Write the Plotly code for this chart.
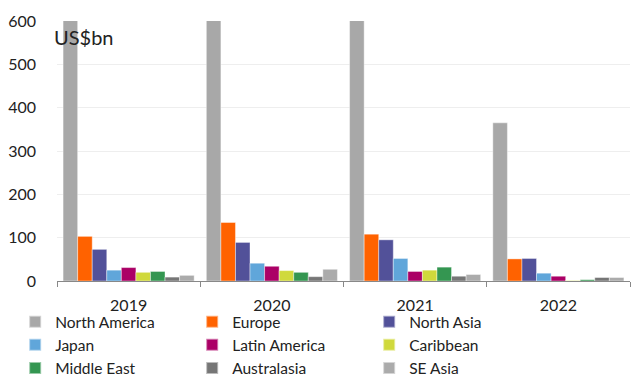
import plotly.graph_objects as go

years = ["2019", "2020", "2021", "2022"]
regions = ["North America", "Europe", "North Asia", "Japan", "Latin America",
           "Caribbean", "Middle East", "Australasia", "SE Asia"]
colors = ["#A8A8A8", "#FF6200", "#525199", "#60A6DA", "#AB0066",
          "#D0D93C", "#349651", "#767676", "#ABABAB"]

north_america = [900, 900, 900, 365]
europe = [103, 135, 108, 51]
north_asia = [73, 89, 95, 52]
japan = [25, 41, 52, 18]
latin_america = [31, 34, 22, 11]
caribbean = [20, 24, 25, 1]
middle_east = [22, 20, 32, 3]
australasia = [9, 10, 11, 8]
se_asia = [13, 27, 15, 8]

series = [north_america, europe, north_asia, japan, latin_america,
          caribbean, middle_east, australasia, se_asia]

font = "Lato"
fig = go.Figure()
for name, vals, col in zip(regions, series, colors):
    fig.add_trace(go.Bar(x=years, y=vals, name=name,
                         marker=dict(color=col, line=dict(color="rgba(255,255,255,0.5)", width=0.8))))

fig.update_layout(
    width=632, height=380,
    margin=dict(l=57, r=2, t=21, b=99, autoexpand=False),
    barmode="group", bargap=0.085, bargroupgap=0,
    plot_bgcolor="white", paper_bgcolor="white",
    font=dict(family=font, size=16, color="#222222"),
    showlegend=True,
    legend=dict(orientation="h", x=0.024, xanchor="left", xref="container",
                y=0.197, yref="container", yanchor="top",
                entrywidth=132, entrywidthmode="pixels",
                font=dict(size=15.5, color="#222222"),
                traceorder="normal", itemsizing="constant",
                tracegroupgap=0, bgcolor="rgba(0,0,0,0)"),
    xaxis=dict(type="category", showline=True, linecolor="#888888", linewidth=1,
               ticks="outside", tickson="boundaries", ticklen=5, tickcolor="#888888",
               showgrid=False, automargin=False, ticklabelstandoff=10,
               tickfont=dict(size=16, color="#222222")),
    yaxis=dict(range=[0, 600], dtick=100, showgrid=True, gridcolor="#EEEEEE",
               gridwidth=1, zeroline=False, showline=False, ticks="", automargin=False,
               ticklabelstandoff=20, tickfont=dict(size=16, color="#222222")),
    annotations=[dict(text="US$bn", xref="paper", yref="paper", x=0, y=0.94,
                      xanchor="left", yanchor="middle", showarrow=False,
                      xshift=-5, font=dict(size=20, color="#222222"))],
)

fig.write_html("out.html")
